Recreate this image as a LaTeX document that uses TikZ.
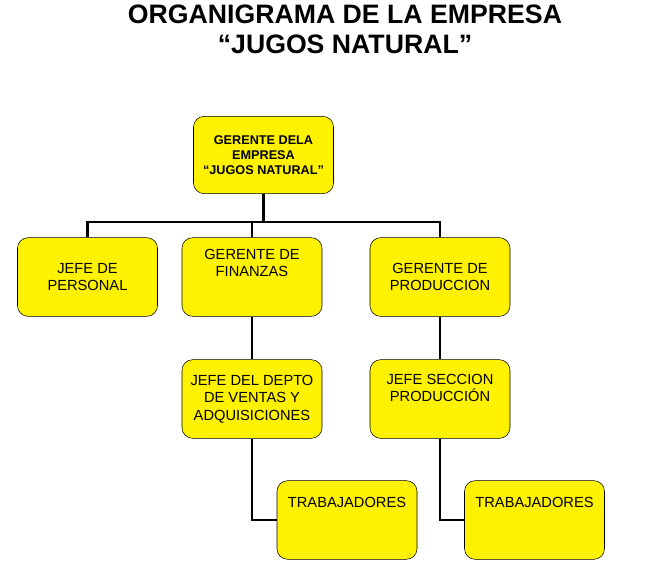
\documentclass[tikz,border=0pt]{standalone}
\usepackage{fontspec}
\setmainfont{Liberation Sans}
\begin{document}
\begin{tikzpicture}[x=0.75pt,y=-0.75pt,
 box/.style={draw=black,fill=yellow,rounded corners=8pt,minimum width=105pt,minimum height=59pt,align=center,font=\fontsize{11}{13}\selectfont,inner sep=2pt},
 conn/.style={line width=2pt}]
\useasboundingbox (0,0) rectangle (670,569);
\node[font=\bfseries\fontsize{20}{22.5}\selectfont,align=center] (title) at (345,29) {ORGANIGRAMA DE LA EMPRESA\\“JUGOS NATURAL”};
\node[box,minimum height=58pt,font=\bfseries\fontsize{9.5}{11}\selectfont] (g) at (263.5,155) {GERENTE DELA\\EMPRESA\\“JUGOS NATURAL”};
\node[box] (p) at (87.5,277) {JEFE DE\\PERSONAL};
\node[box] (f) at (252,277) {GERENTE DE\\FINANZAS\\[8pt]};
\node[box] (pr) at (440,277) {GERENTE DE\\PRODUCCION};
\node[box] (d) at (252,399) {JEFE DEL DEPTO\\DE VENTAS Y\\ADQUISICIONES};
\node[box] (s) at (440,399) {JEFE SECCION\\PRODUCCIÓN\\[4pt]};
\node[box] (t1) at (347,520) {TRABAJADORES\\[14pt]};
\node[box] (t2) at (534.5,520) {TRABAJADORES\\[14pt]};
\coordinate (h) at (263.5,222);
\draw[conn] (g.south) -- (h);
\draw[conn] (p.north) -- (87.5,222) -- (440,222) -- (pr.north);
\draw[conn] (f.north) -- (252,222);
\draw[conn] (f.south) -- (d.north);
\draw[conn] (pr.south) -- (s.north);
\draw[conn] (d.south) |- (t1.west);
\draw[conn] (s.south) |- (t2.west);
\end{tikzpicture}
\end{document}
